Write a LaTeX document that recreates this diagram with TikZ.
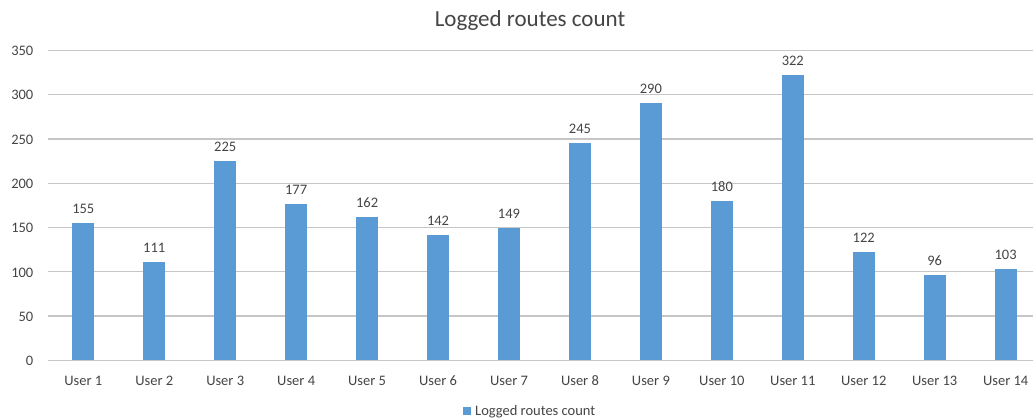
\documentclass[tikz,border=0pt]{standalone}
\usepackage{fontspec}
\setmainfont{Carlito}
\definecolor{barblue}{HTML}{5B9BD5}
\definecolor{txtgray}{HTML}{454545}
\definecolor{gridgray}{HTML}{C6C6C6}
\begin{document}
\begin{tikzpicture}[x=1pt,y=-1pt,
  lbl/.style={font=\fontsize{14.5}{16}\selectfont, text=txtgray, inner sep=0pt},
  ttl/.style={font=\fontsize{23}{26}\selectfont, text=txtgray, inner sep=0pt},
  gridline/.style={draw=gridgray, line width=1.3pt},
  bar/.style={fill=barblue}]
\useasboundingbox (0,0) rectangle (1033,419);
\fill[white] (0,0) rectangle (1033,419);
% title
\node[ttl, anchor=base] (title) at (530,26.7) {Logged routes count};
% horizontal grid and value axis labels
\foreach \v in {0,50,...,350}{
  \pgfmathsetmacro{\yy}{360.3-\v*0.885714}
  \draw[gridline] (47.8,\yy) -- (1033,\yy);
  \node[lbl, anchor=base east] (ylab\v) at (33.5,\yy+5.3) {\v};
}
% bars, data labels and category labels
\foreach \v [count=\i] in {155,111,225,177,162,142,149,245,290,180,322,122,96,103}{
  \pgfmathsetmacro{\cx}{83.3+(\i-1)*70.95}
  \pgfmathsetmacro{\ytop}{360.3-\v*0.885714}
  \fill[bar] (\cx-11,360.3) rectangle (\cx+11,\ytop);
  \node[lbl, anchor=base] (val\i) at (\cx,\ytop-9.5) {\v};
  \node[lbl, anchor=base] (cat\i) at (\cx,385) {User \i};
}
% legend
\fill[bar] (463,407) rectangle (471,415);
\node[lbl, anchor=base west] (legend) at (475,415) {Logged routes count};
\end{tikzpicture}
\end{document}
